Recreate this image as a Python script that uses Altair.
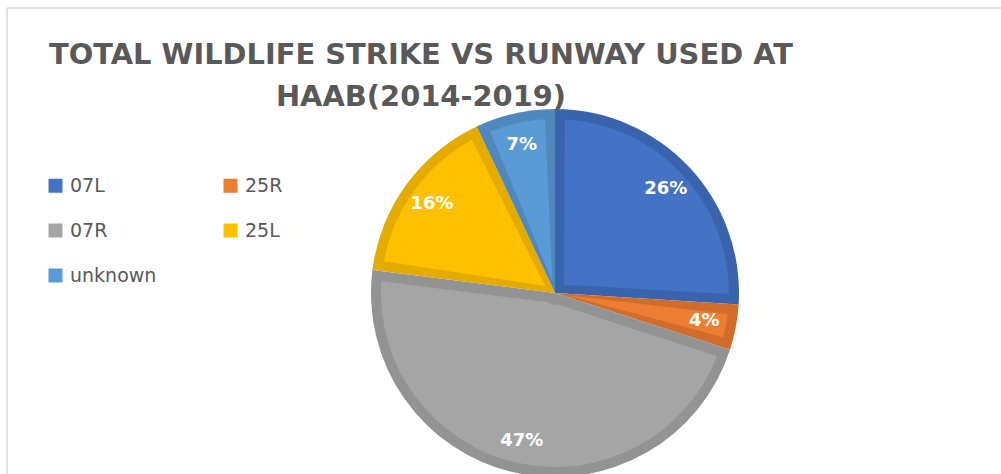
import altair as alt
import pandas as pd

runways = ["07L", "25R", "07R", "25L", "unknown"]
shares = [26, 4, 47, 16, 7]
labels = ["26%", "4%", "47%", "16%", "7%"]

light = {"07L": "#4472C4", "25R": "#ED7D31", "07R": "#A5A5A5", "25L": "#FFC000", "unknown": "#5B9BD5"}
dark = {"07L": "#3A63AE", "25R": "#D06D2C", "07R": "#939393", "25L": "#E5AC00", "unknown": "#4E88BC"}

# legend fills column by column: column 1 then column 2
legend_order = ["07L", "07R", "unknown", "25R", "25L"]

df = pd.DataFrame({"runway": runways, "share": shares, "label": labels,
                   "idx": list(range(len(runways)))})
frame_df = pd.DataFrame({"k": [0]})

TFONT = "DejaVu Sans"
CX, CY = 555, 293
R = 184
BORDER = 10

base = alt.Chart(df).encode(
    theta=alt.Theta("share:Q", stack=True),
    order=alt.Order("idx:O"),
    x=alt.value(CX),
    y=alt.value(CY),
)

outer = base.mark_arc(outerRadius=R).encode(
    color=alt.Color("runway:N",
                    scale=alt.Scale(domain=runways, range=[dark[r] for r in runways]),
                    legend=None)
)

inner = base.mark_arc(outerRadius=R - BORDER, innerRadius=12, padAngle=0.115).encode(
    fill=alt.Fill("runway:N",
                  scale=alt.Scale(domain=legend_order, range=[light[r] for r in legend_order]),
                  legend=alt.Legend(title=None, orient="none", legendX=46, legendY=176,
                                    padding=0, columns=2, columnPadding=64, rowPadding=25,
                                    symbolType="square", symbolSize=196,
                                    symbolStrokeWidth=0,
                                    labelFont=TFONT, labelFontSize=19,
                                    labelColor="#595959", labelOffset=5))
)

text = base.mark_text(radius=152, font=TFONT, fontSize=18, fontWeight="bold",
                      color="white").encode(text="label:N")

frame_top = alt.Chart(frame_df).mark_rule(color="#D9D9D9", strokeWidth=1.5).encode(
    x=alt.value(7), x2=alt.value(1001), y=alt.value(8))
frame_left = alt.Chart(frame_df).mark_rule(color="#D9D9D9", strokeWidth=1.5).encode(
    x=alt.value(7), y=alt.value(8), y2=alt.value(474))

chart = alt.layer(frame_top, frame_left, outer, inner, text).resolve_scale(
    color="independent", fill="independent").properties(
    width=1001, height=474,
    padding={"left": 0, "top": 0, "right": 0, "bottom": 0},
    autosize=alt.AutoSizeParams(type="none"),
    title=alt.TitleParams(
        text=["TOTAL WILDLIFE STRIKE VS RUNWAY USED AT", "HAAB(2014-2019)"],
        anchor="start", align="center", dx=421, offset=-135, baseline="alphabetic",
        lineHeight=42, font=TFONT, fontSize=28.9, fontWeight="bold", color="#595959",
    ),
).configure_view(stroke=None)

chart.save("out.html", embed_options={"renderer": "svg", "actions": False})
